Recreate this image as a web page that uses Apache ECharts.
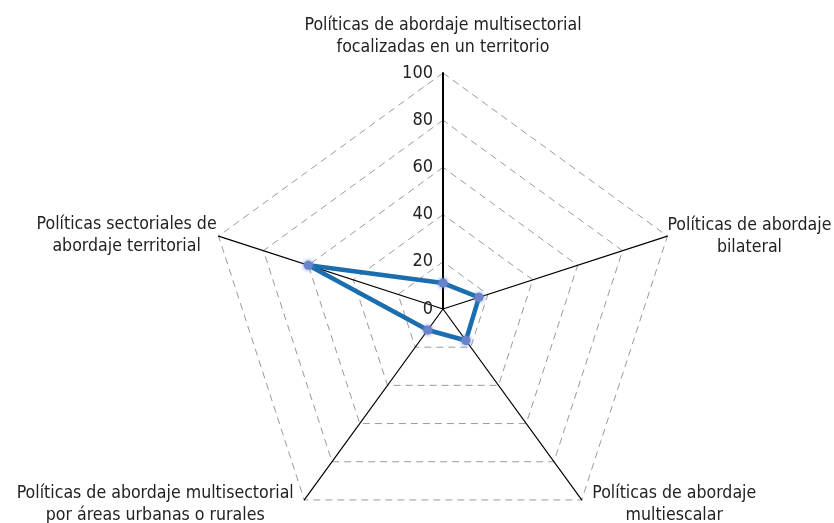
<!DOCTYPE html>
<html>
<head>
<meta charset="utf-8">
<script src="https://cdn.jsdelivr.net/npm/echarts@6/dist/echarts.min.js"></script>
<style>
  html, body { margin: 0; padding: 0; background: #fff; }
  #chart { width: 834px; height: 523px; }
</style>
</head>
<body>
<div id="chart"></div>
<script>
// indicators in ECharts order (counterclockwise from top)
const indicatorNames = [
  "Políticas de abordaje multisectorial\nfocalizadas en un territorio",
  "Políticas sectoriales de\nabordaje territorial",
  "Políticas de abordaje multisectorial\npor áreas urbanas o rurales",
  "Políticas de abordaje\nmultiescalar",
  "Políticas de abordaje\nbilateral"
];
const indicatorMax = 100;
const values = [11, 60, 11, 16.5, 16];

const font = "'Liberation Sans Narrow', 'DejaVu Sans Condensed', sans-serif";

// per-indicator name gap / padding tweaks
const nameGaps = [15, 2, 6, 6, 0];
const namePads = [0, 0, [0, 7, 0, 0], [0, 0, 0, 7], 0];

const chart = echarts.init(document.getElementById("chart"));

const option = {
  animation: false,
  radar: {
    center: [443, 309],
    radius: 236,
    startAngle: 90,
    splitNumber: 5,
    shape: "polygon",
    nameGap: 6,
    axisName: {
      color: "#222",
      fontFamily: font,
      fontSize: 17.6,
      lineHeight: 22,
      formatter: (name) => name.split("\n").map(l => "{c|" + l + "}").join("\n"),
      rich: {
        c: { align: "center", fontFamily: font, fontSize: 17.6, lineHeight: 22, color: "#222" }
      }
    },
    axisLine: { lineStyle: { color: "#000", width: 1.2 } },
    splitLine: { lineStyle: { color: "#999", width: 1, type: [7, 5] } },
    splitArea: { show: false },
    axisTick: { show: false },
    axisLabel: { show: false },
    indicator: indicatorNames.map((n, i) => {
      const ind = {
        name: n,
        max: indicatorMax,
        min: 0,
        nameGap: nameGaps[i],
        nameTextStyle: { padding: namePads[i] }
      };
      if (i === 0) {
        ind.axisLabel = {
          show: true,
          color: "#222",
          fontFamily: font,
          fontSize: 18,
          margin: 10
        };
        ind.axisLine = { lineStyle: { color: "#000", width: 2 } };
      }
      return ind;
    })
  },
  series: [
    {
      type: "radar",
      symbol: "circle",
      symbolSize: 9,
      lineStyle: { color: "#1a6daf", width: 4.5 },
      itemStyle: { color: "#6883c8", shadowBlur: 4, shadowColor: "#6883c8" },
      data: [{ value: values }]
    }
  ]
};

chart.setOption(option);
</script>
</body>
</html>
